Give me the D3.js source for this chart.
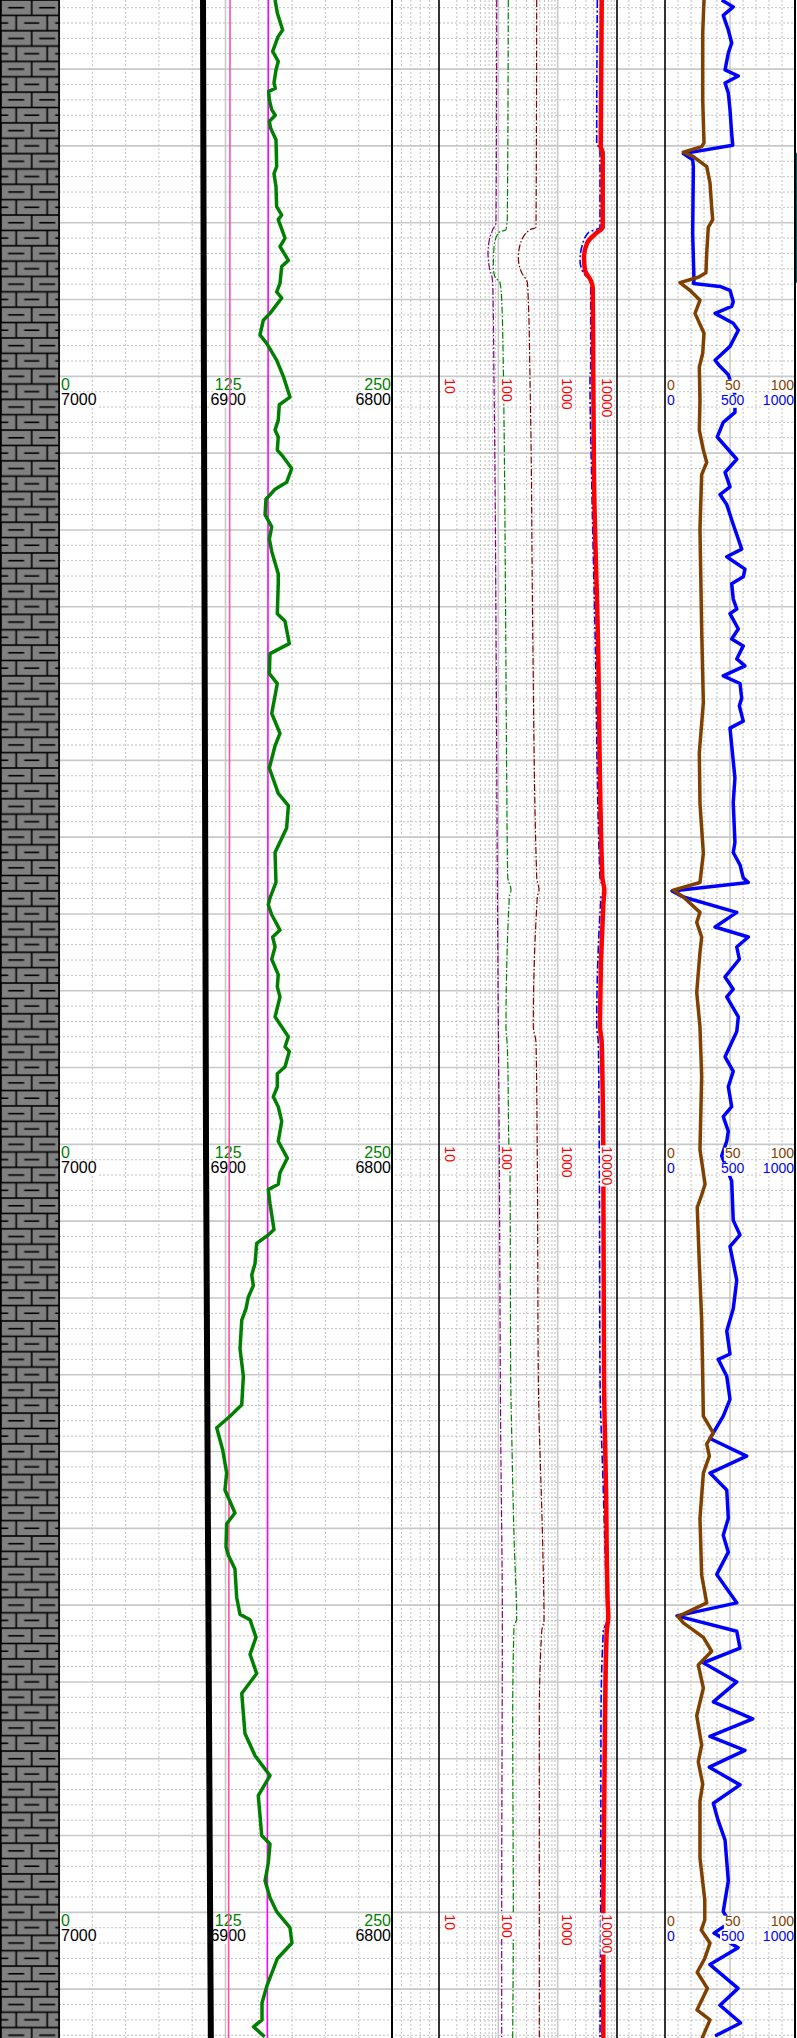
<!DOCTYPE html>
<html><head><meta charset="utf-8">
<script src="https://cdn.jsdelivr.net/npm/d3@7"></script>
<style>body{margin:0;background:#fff}svg{display:block}</style>
</head><body><svg id="c"></svg>
<script>
// ---------------- DATA ----------------
const depthTop = 7451, depthBottom = 7716.36;
const labelDepths = [7500, 7600, 7700];
const grTicks = [0, 125, 250];
const tvdTicks = [7000, 6900, 6800];
const resTicks = [10, 100, 1000, 10000];
const brownTicks = [0, 50, 100];
const blueTicks = [0, 500, 1000];

const grDepth = [7451.0,7452.7,7454.9,7455.8,7457.7,7459.0,7460.1,7461.8,7462.5,7462.9,7464.0,7465.3,7466.0,7466.8,7467.7,7469.2,7472.7,7473.6,7475.3,7477.9,7479.0,7479.6,7482.0,7483.1,7484.9,7485.7,7487.9,7489.0,7489.8,7491.8,7492.7,7494.6,7495.7,7497.9,7500.0,7502.7,7503.7,7505.7,7507.0,7507.9,7509.6,7510.5,7512.0,7513.8,7514.7,7516.0,7518.0,7519.6,7521.2,7522.8,7525.7,7527.0,7530.9,7531.9,7534.8,7536.1,7538.7,7540.0,7543.9,7546.5,7548.1,7551.0,7554.3,7555.9,7558.8,7562.0,7565.9,7567.9,7568.8,7570.1,7572.1,7573.0,7574.3,7575.9,7577.9,7579.5,7580.8,7583.4,7586.0,7587.3,7587.9,7589.9,7590.8,7592.5,7593.8,7595.1,7597.0,7599.6,7601.8,7603.7,7605.2,7605.9,7607.7,7611.1,7611.8,7612.9,7615.5,7617.0,7618.4,7619.9,7621.4,7622.9,7626.6,7630.2,7633.9,7635.4,7636.9,7639.8,7642.8,7645.0,7646.5,7648.0,7649.4,7652.4,7653.5,7655.3,7659.0,7661.2,7661.9,7664.2,7666.4,7668.9,7671.5,7676.7,7679.6,7682.2,7684.8,7687.4,7690.0,7691.1,7693.6,7695.9,7698.1,7699.9,7702.0,7704.0,7706.0,7709.5,7711.8,7714.0,7714.9,7716.2];
const grValue = [162.2,163.9,167.9,164.4,160.4,164.6,162.9,161.4,162.4,157.4,157.9,159.7,162.4,157.9,158.9,162.9,163.4,161.4,162.9,163.4,167.2,164.6,169.7,165.9,172.2,167.2,165.9,163.4,167.2,158.4,153.4,150.9,155.9,163.4,168.4,173.4,165.4,164.6,162.2,164.6,163.9,168.4,174.7,170.9,162.2,155.4,154.7,159.7,157.9,159.7,164.6,164.6,163.9,169.7,172.9,158.4,157.9,163.9,159.7,165.9,162.2,157.9,164.6,172.2,170.9,162.2,162.9,158.4,157.1,159.7,165.9,160.4,162.2,159.7,164.6,163.9,165.9,162.2,172.2,169.7,172.9,169.7,163.9,163.9,160.9,164.6,167.2,164.6,171.4,165.9,164.6,157.1,158.4,161.4,157.1,148.4,147.2,144.7,145.9,142.1,140.4,137.2,135.9,138.4,137.2,128.4,118.4,122.9,125.9,124.6,128.4,132.1,125.9,125.4,127.1,132.1,133.4,135.9,143.4,147.9,143.4,148.4,137.2,139.6,147.2,158.4,149.6,150.9,152.2,158.4,157.1,154.7,158.4,163.4,173.4,174.9,164.0,156.2,152.4,152.4,146.0,154.4];

const tvdDepth = [7451, 7505.7, 7600.7, 7659.3, 7716.4];
const tvdValue = [6913.5, 6912.9, 6911.7, 6910.3, 6908.8];

const cutDepth = [7451, 7716.4];
const cutPinkValue = [128.4, 127.3];
const cutMagentaValue = [157.1, 156.4];

const purpleDepth = [7451.0,7480.0,7480.9,7482.3,7483.9,7485.8,7487.1,7487.8,7500.5,7513.5,7532.9,7565.2,7602.0,7637.6,7661.9,7699.6,7716.4];
const purpleValue = [93.9,91.4,80.4,70.4,67.0,70.4,78.2,80.4,84.5,87.9,91.4,96.1,103.8,109.6,116.7,114.0,114.0];

const greenDDepth = [7451.0,7479.3,7480.9,7481.3,7483.2,7485.8,7487.1,7487.8,7490.1,7498.8,7505.7,7532.9,7552.3,7565.2,7566.9,7567.8,7584.7,7587.3,7602.0,7603.7,7630.2,7637.6,7652.3,7661.9,7662.7,7674.4,7699.6,7716.4];
const greenDValue = [147.2,141.7,134.7,99.9,84.5,82.3,87.9,106.7,114.0,121.3,124.6,133.1,138.4,143.9,163.5,153.1,134.7,141.7,153.1,157.3,161.6,168.0,185.8,204.0,183.7,174.7,178.8,174.7];

const maroonDepth = [7451.0,7480.6,7480.9,7482.6,7484.5,7486.5,7487.8,7490.1,7500.5,7505.7,7532.9,7565.2,7566.9,7567.8,7584.7,7586.7,7602.0,7630.2,7652.3,7661.9,7663.4,7674.4,7716.4];
const maroonValue = [443.3,431.4,341.9,238.3,217.1,247.7,307.9,320.0,341.9,351.3,379.6,443.3,484.7,453.7,388.6,431.4,453.7,471.7,559.6,588.6,538.3,490.3,490.3];

const blueDDepth = [7451.0,7469.6,7470.5,7480.6,7481.3,7483.2,7484.9,7486.5,7487.8,7498.8,7500.5,7513.5,7532.9,7565.2,7566.9,7567.8,7584.7,7586.7,7602.0,7630.2,7645.0,7659.7,7661.9,7663.4,7674.4,7699.6,7716.4];
const blueDValue = [4658,4550,5172,5172,3284,2542,2380,2705,3605,3605,3509,3747,4260,5172,5879,5377,4550,4842,5034,5172,5879,6708,6866,5879,5377,5314,5172];

const redDepth = [7451.0,7470.1,7470.9,7480.6,7481.3,7482.6,7484.5,7486.2,7487.5,7488.4,7500.5,7513.5,7532.9,7565.2,7566.9,7568.8,7584.7,7586.7,7602.0,7630.2,7645.0,7659.7,7661.5,7663.4,7674.4,7699.6,7716.4];
const redValue = [5524,5314,5743,5743,4550,3159,2780,2889,3605,3896,3988,4098,4730,5654,6111,5879,5172,5524,5879,6040,6527,6973,7137,6708,6281,5879,5879];

const brownDepth = [7451.0,7455.3,7464.0,7469.6,7470.1,7470.8,7471.4,7472.7,7474.8,7478.0,7479.6,7480.6,7483.9,7486.5,7487.1,7487.8,7488.8,7490.1,7491.8,7494.4,7497.0,7498.8,7503.1,7507.0,7509.6,7511.2,7512.8,7519.9,7532.9,7542.5,7549.0,7555.6,7562.1,7565.9,7566.9,7567.8,7569.8,7571.1,7573.0,7575.0,7580.2,7584.7,7591.2,7600.7,7605.2,7606.6,7608.2,7615.5,7622.9,7630.2,7635.4,7637.6,7639.0,7640.6,7642.8,7648.7,7656.1,7659.7,7661.5,7662.3,7664.2,7666.0,7667.8,7670.8,7674.4,7678.2,7680.4,7683.3,7685.5,7692.9,7698.4,7701.0,7702.3,7704.0,7706.0,7707.8,7709.9,7712.7,7714.0,7716.4];
const brownValue = [30.0,29.0,29.0,30.0,28.2,14.1,21.8,32.1,34.6,35.9,36.7,33.3,32.1,31.5,25.6,11.5,19.2,26.9,23.1,30.0,29.0,26.4,26.9,26.4,29.5,32.1,28.2,26.9,28.2,29.5,26.4,26.9,29.5,26.9,6.4,14.1,26.9,24.4,28.2,26.9,24.4,26.9,28.2,26.9,30.8,28.2,24.8,26.4,28.2,29.0,29.5,37.2,32.1,34.1,29.5,26.9,28.2,32.1,10.0,14.1,29.5,35.9,25.6,29.5,24.4,28.2,25.6,29.0,26.9,26.9,30.6,30.6,27.9,34.6,30.6,24.8,32.6,24.6,34.6,28.5];

const blueDepth = [7451.0,7451.9,7453.0,7454.9,7456.6,7457.9,7460.1,7460.9,7461.8,7463.1,7465.3,7468.4,7469.9,7471.0,7471.8,7472.7,7481.4,7487.5,7487.9,7488.3,7488.8,7490.3,7490.9,7491.8,7493.1,7494.0,7496.1,7497.9,7498.7,7499.8,7502.4,7504.7,7506.0,7507.9,7510.8,7512.5,7514.4,7515.4,7516.7,7519.3,7521.2,7522.5,7523.5,7525.1,7526.1,7527.0,7529.0,7530.3,7530.9,7532.9,7534.2,7535.1,7536.8,7537.7,7539.0,7540.0,7541.9,7542.9,7544.9,7545.8,7552.3,7555.5,7560.7,7562.0,7563.6,7565.3,7565.9,7567.0,7567.8,7569.8,7571.7,7573.0,7574.3,7575.9,7578.2,7579.8,7580.8,7583.4,7585.3,7588.6,7590.5,7592.5,7595.1,7596.4,7598.3,7599.6,7601.5,7604.8,7609.9,7611.8,7613.3,7617.7,7621.4,7624.3,7627.3,7628.0,7630.2,7633.2,7635.4,7638.3,7640.6,7642.8,7645.0,7648.7,7650.9,7653.1,7656.0,7659.7,7661.4,7663.4,7665.6,7667.5,7670.0,7672.6,7674.8,7677.1,7678.9,7681.1,7683.4,7685.8,7688.0,7690.6,7695.9,7699.9,7701.3,7702.7,7704.6,7706.8,7709.9,7712.1,7714.4,7716.1];
const blueValue = [436,525,448,487,513,487,462,564,462,487,500,513,521,141,213,218,213,223,218,423,500,525,513,385,525,564,500,385,423,487,538,538,448,402,552,462,500,423,475,525,564,590,475,615,602,513,525,552,500,564,513,602,552,615,448,577,590,572,602,500,538,525,538,525,577,602,641,54,141,552,385,641,552,572,462,525,475,564,552,462,525,487,513,448,487,475,436,513,525,577,500,552,525,475,500,410,475,500,448,346,628,346,475,487,448,487,398,552,92,552,577,295,552,372,675,346,615,341,577,372,408,462,487,448,500,377,562,346,562,423,581,385];

const tealDepth = [7470.9, 7487.8];
const tealValue = [1015, 1015];

// ---------------- LAYOUT ----------------
const W = 797, H = 2038;
const FONT = "'Liberation Sans', Arial, sans-serif";
const svg = d3.select('#c').attr('width', W).attr('height', H);
svg.append('rect').attr('width', W).attr('height', H).attr('fill', '#fff');

const y = d3.scaleLinear().domain([depthTop, depthBottom]).range([0, H]);
const lith = {x0: 0, x1: 59};
const tracks = [
  {x0: 59, x1: 392, div: 10, center: true},
  {x0: 392, x1: 439, div: 5},
  {x0: 439, x1: 617, log: true},
  {x0: 617, x1: 665, div: 4},
  {x0: 665, x1: 795, div: 10, center: true}
];
const xGR = d3.scaleLinear().domain([0, 250]).range([59, 392]);
const xTVD = d3.scaleLinear().domain([7000, 6800]).range([59, 392]);
const xRes = d3.scaleLog().domain([10, 10000]).range([439, 617]);
const xBrown = d3.scaleLinear().domain([0, 100]).range([665, 795]);
const xBlue = d3.scaleLinear().domain([0, 1000]).range([665, 795]);

const SOLID = '#c9c9c9', DOT = '#c2c2c2';

// ---------------- GRID ----------------
const gridG = svg.append('g');
function vline(x, solid) {
  gridG.append('line').attr('x1', x).attr('x2', x).attr('y1', 0).attr('y2', H)
    .attr('stroke', solid ? SOLID : DOT).attr('stroke-width', solid ? 1.6 : 1)
    .attr('stroke-dasharray', solid ? null : '2,2');
}
tracks.forEach(t => {
  if (t.log) {
    const decs = [10, 100, 1000];
    decs.forEach(d => {
      for (let k = 2; k <= 9; k++) vline(xRes(d * k), false);
      if (d > 10) vline(xRes(d), true);
    });
  } else {
    for (let i = 1; i < t.div; i++) {
      const x = t.x0 + (t.x1 - t.x0) * i / t.div;
      vline(x, t.center && i === t.div / 2);
    }
  }
});
const hDepths = d3.range(Math.ceil(depthTop / 2) * 2, depthBottom, 2);
hDepths.forEach(d => {
  const solid = Math.round(d) % 10 === 0;
  gridG.append('line').attr('x1', lith.x1).attr('x2', 795).attr('y1', y(d)).attr('y2', y(d))
    .attr('stroke', solid ? SOLID : DOT).attr('stroke-width', solid ? 1.6 : 1)
    .attr('stroke-dasharray', solid ? null : '2,2');
});

// ---------------- CURVES ----------------
function drawCurve(g, depths, values, xs, color, width, dash, curve) {
  const data = depths.map((d, i) => [d, values[i]]);
  g.append('path').datum(data)
    .attr('d', d3.line().x(p => xs(p[1])).y(p => y(p[0])).curve(curve || d3.curveLinear))
    .attr('fill', 'none').attr('stroke', color).attr('stroke-width', width)
    .attr('stroke-linejoin', 'round').attr('stroke-linecap', 'butt')
    .attr('stroke-dasharray', dash || null);
}
const lowG = svg.append('g');
const DD = '7,2,1.6,2';
drawCurve(lowG, purpleDepth, purpleValue, xRes, '#800080', 1.2, DD, d3.curveMonotoneY);
drawCurve(lowG, greenDDepth, greenDValue, xRes, '#008000', 1.2, DD, d3.curveMonotoneY);
drawCurve(lowG, maroonDepth, maroonValue, xRes, '#800000', 1.2, DD, d3.curveMonotoneY);
drawCurve(lowG, blueDDepth, blueDValue, xRes, '#0000ff', 1.6, '8,2.5,2,2.5', d3.curveMonotoneY);
drawCurve(lowG, redDepth, redValue, xRes, '#ff0000', 4.5, null, d3.curveMonotoneY);
drawCurve(lowG, blueDepth, blueValue, xBlue, '#0000ff', 3.5, null);

// ---------------- LABELS ----------------
const labG = svg.append('g');
function hLabel(x, base, txt, anchor, color, size) {
  const g = labG.append('g');
  const t = g.append('text').attr('x', x).attr('y', base).attr('text-anchor', anchor)
    .attr('fill', color).attr('font-size', size).attr('font-family', FONT).text(txt);
  const b = t.node().getBBox();
  g.insert('rect', 'text').attr('x', b.x - 1).attr('y', base - 0.76 * size)
    .attr('width', b.width + 2).attr('height', 0.76 * size + 2.5).attr('fill', '#fff');
}
function rLabel(x, top, txt, color, size) {
  const g = labG.append('g').attr('transform', `translate(${x},${top}) rotate(90)`);
  const t = g.append('text').attr('x', 0).attr('y', 0).attr('fill', color)
    .attr('font-size', size).attr('font-family', FONT).text(txt);
  const b = t.node().getBBox();
  g.insert('rect', 'text').attr('x', -1).attr('y', -0.76 * size - 1)
    .attr('width', b.width + 2).attr('height', 0.76 * size + 2.5).attr('fill', '#fff');
}
const anchors = ['start', 'middle', 'end'];
function rowPos(scale, v, i) {
  return i === 0 ? scale(v) + 2 : (i === 1 ? scale(v) + 2.7 : scale(v) - 1);
}
labelDepths.forEach(d => {
  const ly = y(d);
  grTicks.forEach((v, i) => hLabel(rowPos(xGR, v, i), ly + 14, String(v), anchors[i], '#008000', 16));
  tvdTicks.forEach((v, i) => hLabel(rowPos(xTVD, v, i), ly + 29, String(v), anchors[i], '#000', 16));
  resTicks.forEach(v => {
    const bx = Math.min(Math.max(xRes(v) + 4, 439 + 6), 617 - 15);
    rLabel(bx, ly + 2, String(v), '#ff0000', 14);
  });
  brownTicks.forEach((v, i) => hLabel(rowPos(xBrown, v, i), ly + 14, String(v), anchors[i], '#804000', 14));
  blueTicks.forEach((v, i) => hLabel(rowPos(xBlue, v, i), ly + 29, String(v), anchors[i], '#0000ff', 14));
});

// ---------------- UPPER CURVES ----------------
const upG = svg.append('g');
drawCurve(upG, cutDepth, cutPinkValue, xGR, '#ff4fa7', 1.6, null);
drawCurve(upG, cutDepth, cutMagentaValue, xGR, '#ff00ff', 1.6, null);
drawCurve(upG, tvdDepth, tvdValue, xTVD, '#000', 6, null, d3.curveMonotoneY);
drawCurve(upG, grDepth, grValue, xGR, '#008000', 3.5, null);
drawCurve(upG, brownDepth, brownValue, xBrown, '#804000', 3.5, null);
drawCurve(upG, tealDepth, tealValue, xBlue, '#006060', 2.5, null);

// ---------------- BORDERS ----------------
const bG = svg.append('g');
[[59, 1.6], [392, 2], [439, 1.6], [617, 1.6], [665, 1.6], [795, 2]].forEach(([x, w]) => {
  bG.append('line').attr('x1', x).attr('x2', x).attr('y1', 0).attr('y2', H)
    .attr('stroke', '#000').attr('stroke-width', w);
});

// ---------------- LITHOLOGY ----------------
const defs = svg.append('defs');
const PW = 31, PH = 30.72, RH = PH / 2;
const pat = defs.append('pattern').attr('id', 'lime').attr('patternUnits', 'userSpaceOnUse')
  .attr('x', 0.7).attr('y', 0).attr('width', PW).attr('height', PH);
pat.append('rect').attr('width', PW).attr('height', PH).attr('fill', '#808080');
const segs = [
  [0, 0, PW, 0], [0, RH, PW, RH], [0, PH, PW, PH],
  [0, 0, 0, RH], [PW, 0, PW, RH], [PW / 2, RH, PW / 2, PH],
  [7.5, RH / 2, 23.5, RH / 2],
  [-1, RH * 1.5, 7.5, RH * 1.5], [23.5, RH * 1.5, PW + 1, RH * 1.5]
];
segs.forEach(s => pat.append('line').attr('x1', s[0]).attr('y1', s[1]).attr('x2', s[2]).attr('y2', s[3])
  .attr('stroke', '#000').attr('stroke-width', 1.6));
svg.append('rect').attr('x', lith.x0).attr('y', 0).attr('width', lith.x1 - lith.x0).attr('height', H)
  .attr('fill', 'url(#lime)');
svg.append('line').attr('x1', 0.8).attr('x2', 0.8).attr('y1', 0).attr('y2', H).attr('stroke', '#000').attr('stroke-width', 1.6);
svg.append('line').attr('x1', 59).attr('x2', 59).attr('y1', 0).attr('y2', H).attr('stroke', '#000').attr('stroke-width', 1.6);
</script>
</body></html>
